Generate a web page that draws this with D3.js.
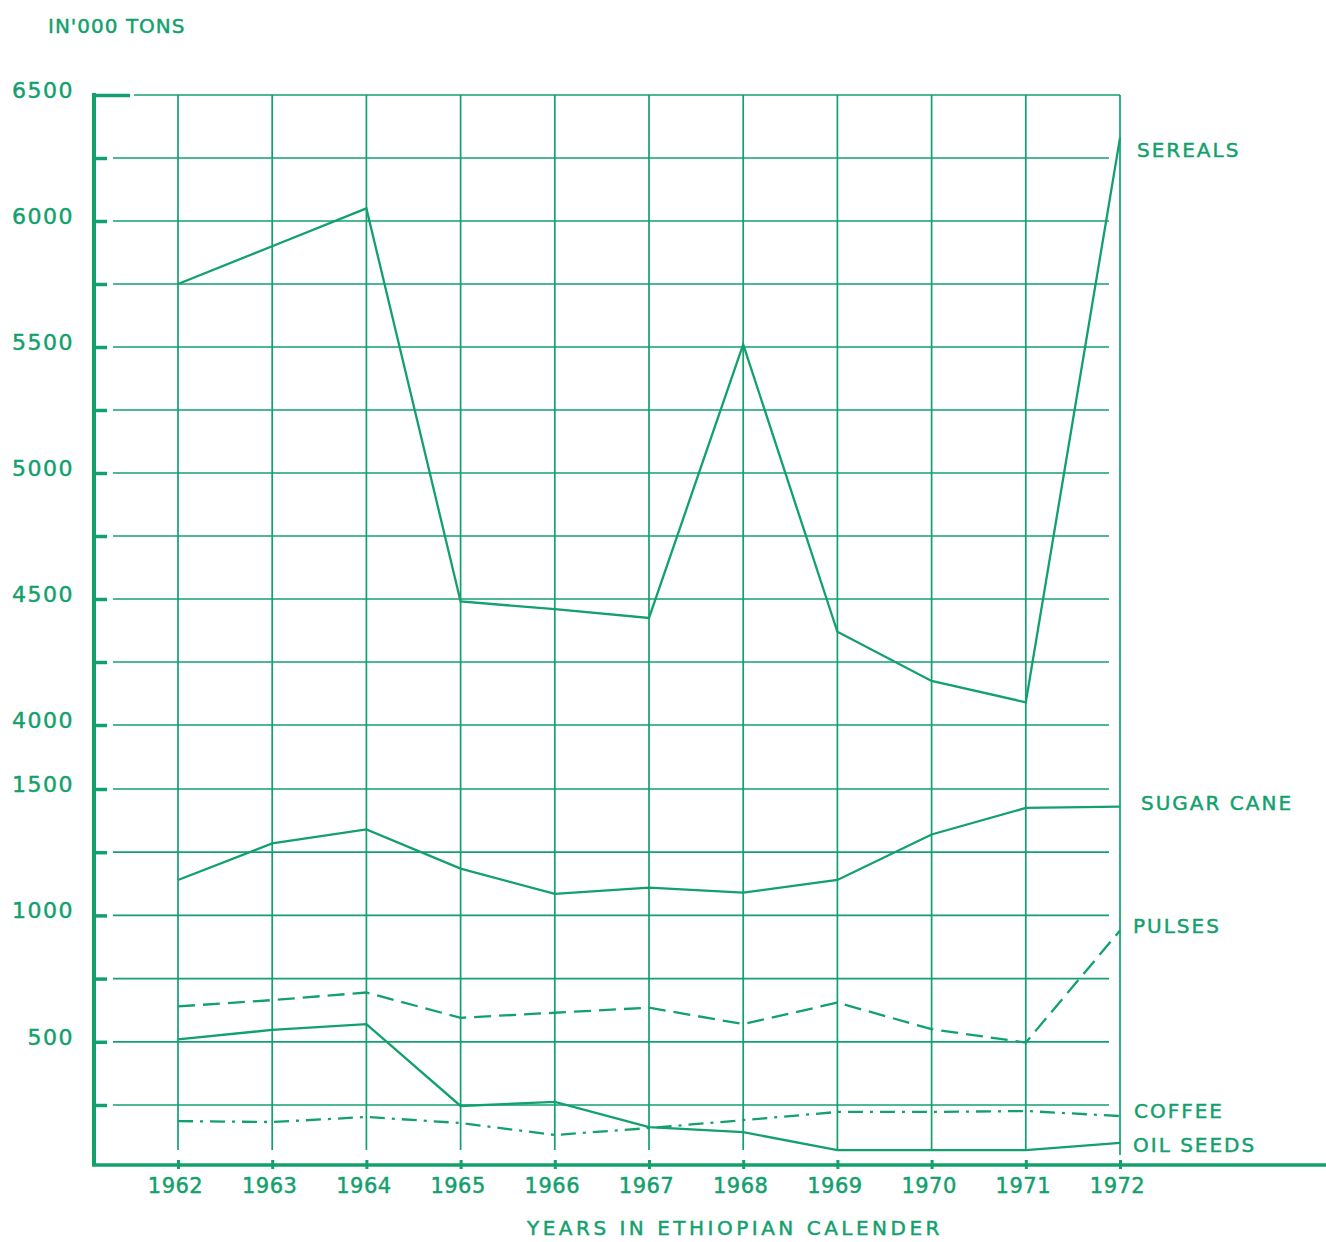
<!DOCTYPE html>
<html>
<head>
<meta charset="utf-8">
<script src="https://cdn.jsdelivr.net/npm/d3@7"></script>
<style>
  html, body { margin: 0; padding: 0; background: #ffffff; }
  svg { display: block; }
  text { font-family: "DejaVu Sans", sans-serif; fill: #12a06d; stroke: #12a06d; stroke-width: 0.45px; }
</style>
</head>
<body>
<script>
// ---- data ----
const years = [1962, 1963, 1964, 1965, 1966, 1967, 1968, 1969, 1970, 1971, 1972];
const sereals   = [5750, 5900, 6050, 4490, 4460, 4425, 5510, 4370, 4175, 4090, 6330];
const sugarCane = [1140, 1285, 1340, 1185, 1085, 1110, 1090, 1140, 1320, 1425, 1430];
const pulses    = [640, 665, 695, 595, 615, 635, 570, 655, 550, 497, 940];
const coffee    = [183, 179, 200, 175, 125, 154, 187, 221, 221, 225, 204];
const oilSeeds  = [510, 547, 570, 246, 262, 158, 137, 62, 62, 62, 92];
const yTicksLower = [250, 500, 750, 1000, 1250, 1500];
const yTicksUpper = [4000, 4250, 4500, 4750, 5000, 5250, 5500, 5750, 6000, 6250, 6500];
const yLabelStep = 500;
const seriesNames = ["SEREALS", "SUGAR CANE", "PULSES", "COFFEE", "OIL SEEDS"];
const titleText = "IN'000 TONS";
const xTitleText = "YEARS IN ETHIOPIAN CALENDER";

const W = 1326, H = 1242;
const color = "#12a06d";

const svg = d3.select("body").append("svg").attr("width", W).attr("height", H);

// broken (piecewise) vertical scale
const y = d3.scaleLinear()
  .domain([0, 250, 1500, 4000, 6500])
  .range([1165, 1105, 789, 725, 95]);
const x = d3.scaleLinear().domain([1962, 1972]).range([178, 1120]);

const axisX0 = 94;   // y-axis position
const gridRight = 1109;

// horizontal gridlines
const allY = yTicksLower.concat(yTicksUpper);
svg.append("g").selectAll("line").data(allY).join("line")
  .attr("x1", d => d === 6500 ? 134 : 113)
  .attr("x2", d => d === 6500 ? x(1972) : gridRight)
  .attr("y1", d => y(d)).attr("y2", d => y(d))
  .attr("stroke", color).attr("stroke-width", 1.7);

// vertical gridlines
svg.append("g").selectAll("line").data(years).join("line")
  .attr("x1", d => x(d)).attr("x2", d => x(d))
  .attr("y1", y(6500)).attr("y2", d => d === 1972 ? 1155 : 1150)
  .attr("stroke", color).attr("stroke-width", 1.7);

// y axis
const yAxis = d3.axisLeft(y)
  .tickValues(allY)
  .tickSize(-13)
  .tickSizeOuter(0)
  .tickPadding(20)
  .tickFormat(d => d % yLabelStep === 0 ? String(d) : "");
const gy = svg.append("g").attr("transform", `translate(${axisX0},0)`).call(yAxis);
gy.select(".domain").attr("stroke", color).attr("stroke-width", 4)
  .attr("d", `M0,${y(6500) - 2}V${y(0)}`);
gy.selectAll(".tick line").attr("stroke", color).attr("stroke-width", 3.5)
  .attr("x2", d => d === 6500 ? 36 : 13);
gy.selectAll(".tick text")
  .attr("fill", color)
  .style("font-family", "DejaVu Sans, sans-serif")
  .style("font-size", "22px")
  .style("letter-spacing", "1.5px")
  .attr("dy", "0.1em");

// x axis
const xAxis = d3.axisBottom(x)
  .tickValues(years)
  .tickSize(5)
  .tickSizeOuter(0)
  .tickPadding(8)
  .tickFormat(d => String(d));
const gx = svg.append("g").attr("transform", `translate(0,${y(0)})`).call(xAxis);
gx.select(".domain").attr("stroke", color).attr("stroke-width", 3.5)
  .attr("d", `M${axisX0 - 2},0H${W}`);
gx.selectAll(".tick line").attr("stroke", color).attr("stroke-width", 3)
  .attr("y1", -5).attr("y2", 4);
gx.selectAll(".tick text")
  .attr("fill", color)
  .attr("dx", "-3")
  .style("font-family", "DejaVu Sans, sans-serif")
  .style("font-size", "21px")
  .style("letter-spacing", "0.5px");

// series lines
const line = d3.line().x((d, i) => x(years[i])).y(d => y(d));
const seriesData = [
  { name: seriesNames[0], values: sereals,   dash: null },
  { name: seriesNames[1], values: sugarCane, dash: null },
  { name: seriesNames[2], values: pulses,    dash: "17,8" },
  { name: seriesNames[3], values: coffee,    dash: "15,7,3,7" },
  { name: seriesNames[4], values: oilSeeds,  dash: null }
];
svg.append("g").selectAll("path").data(seriesData).join("path")
  .attr("d", d => line(d.values))
  .attr("fill", "none")
  .attr("stroke", color)
  .attr("stroke-width", 2.3)
  .attr("stroke-dasharray", d => d.dash);

// series labels (positioned near last values)
const labelOffsets = { "SEREALS": [17, 12], "SUGAR CANE": [21, -4], "PULSES": [13, -5], "COFFEE": [14, -5], "OIL SEEDS": [13, 2] };
svg.append("g").selectAll("text").data(seriesData).join("text")
  .attr("x", d => x(1972) + labelOffsets[d.name][0])
  .attr("y", d => y(d.values[d.values.length - 1]) + labelOffsets[d.name][1])
  .attr("dy", "0.35em")
  .style("font-size", "20px")
  .style("letter-spacing", "2px")
  .text(d => d.name);

// titles
svg.append("text").attr("x", 48).attr("y", 33)
  .style("font-size", "20px").style("letter-spacing", "1px")
  .text(titleText);
svg.append("text").attr("x", 735).attr("y", 1235)
  .attr("text-anchor", "middle")
  .style("font-size", "20px").style("letter-spacing", "3.5px")
  .text(xTitleText);
</script>
</body>
</html>
